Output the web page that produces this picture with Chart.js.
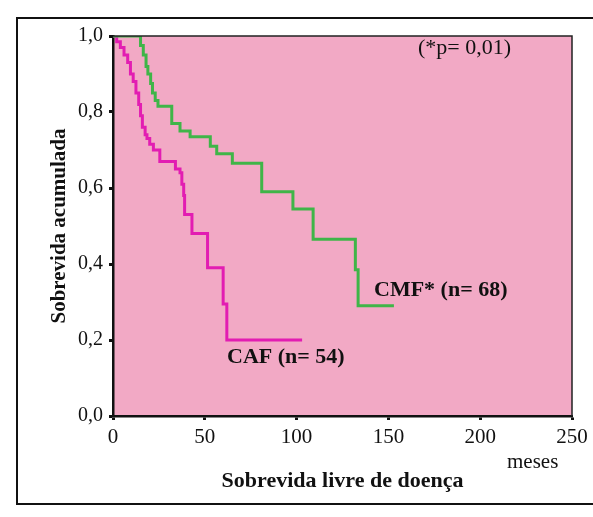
<!DOCTYPE html>
<html>
<head>
<meta charset="utf-8">
<script src="https://cdn.jsdelivr.net/npm/chart.js@4/dist/chart.umd.min.js"></script>
<style>
  html, body { margin: 0; padding: 0; background: #ffffff; }
  #wrap { width: 593px; height: 517px; position: relative; }
</style>
</head>
<body>
<div id="wrap"><canvas id="c" width="593" height="517"></canvas></div>
<script>
// ---- data (months, cumulative survival) ----
const cmfMonths = [0, 15, 16.5, 18, 19, 20.5, 21.5, 23, 24.5, 32, 36.5, 42, 53, 56.5, 65, 81, 98, 109, 132, 133.5, 153];
const cmfSurv   = [1.0, 0.975, 0.95, 0.92, 0.9, 0.875, 0.85, 0.83, 0.815, 0.77, 0.75, 0.735, 0.71, 0.69, 0.665, 0.59, 0.545, 0.465, 0.385, 0.29, 0.29];
const cafMonths = [0, 2, 4, 6, 8, 9.5, 11, 12.5, 14, 15, 16, 17.5, 18.5, 20, 22, 25.5, 34, 36.5, 37.5, 38.5, 39, 43, 51.5, 60, 62, 103];
const cafSurv   = [1.0, 0.985, 0.97, 0.95, 0.93, 0.9, 0.88, 0.85, 0.82, 0.79, 0.76, 0.74, 0.73, 0.715, 0.7, 0.67, 0.65, 0.64, 0.61, 0.58, 0.53, 0.48, 0.39, 0.295, 0.2, 0.2];
const xTicks = [0, 50, 100, 150, 200, 250];
const yTicks = [0.0, 0.2, 0.4, 0.6, 0.8, 1.0];
const seriesNames = ['CMF* (n= 68)', 'CAF (n= 54)'];
const pValueText = '(*p= 0,01)';
const xTitle = 'Sobrevida livre de doença';
const xUnit = 'meses';
const yTitle = 'Sobrevida acumulada';

const toPts = (xs, ys) => xs.map((x, i) => ({ x: x, y: ys[i] }));

const SERIF = '"Liberation Serif", "DejaVu Serif", serif';
const PINK = '#f2a9c5';

const decorPlugin = {
  id: 'decor',
  beforeDraw(chart) {
    const { ctx, chartArea: a } = chart;
    ctx.save();
    // outer figure frame
    ctx.strokeStyle = '#111';
    ctx.lineWidth = 2;
    ctx.beginPath();
    ctx.moveTo(600, 18);
    ctx.lineTo(17, 18);
    ctx.lineTo(17, 504);
    ctx.lineTo(600, 504);
    ctx.stroke();
    // pink plot background
    ctx.fillStyle = PINK;
    ctx.fillRect(a.left, a.top, a.right - a.left, a.bottom - a.top);
    ctx.restore();
  },
  afterDatasetsDraw(chart) {
    const { ctx, chartArea: a } = chart;
    ctx.save();
    // top and right border of plot area
    ctx.strokeStyle = '#222';
    ctx.lineWidth = 1.5;
    ctx.beginPath();
    ctx.moveTo(a.left, a.top);
    ctx.lineTo(a.right, a.top);
    ctx.lineTo(a.right, a.bottom);
    ctx.stroke();
    // annotations
    ctx.fillStyle = '#111';
    ctx.textBaseline = 'middle';
    ctx.textAlign = 'left';
    ctx.font = 'bold 22px ' + SERIF;
    ctx.fillText(seriesNames[0], 374, 290);
    ctx.fillText(seriesNames[1], 227, 357);
    ctx.font = '22px ' + SERIF;
    ctx.fillText(pValueText, 418, 48);
    // unit label
    ctx.font = '21px ' + SERIF;
    ctx.fillText(xUnit, 507, 462);
    ctx.restore();
  }
};

new Chart(document.getElementById('c'), {
  type: 'line',
  data: {
    datasets: [
      {
        label: seriesNames[0],
        data: toPts(cmfMonths, cmfSurv),
        borderColor: '#3fb548',
        borderWidth: 3,
        stepped: 'before',
        pointRadius: 0,
        fill: false
      },
      {
        label: seriesNames[1],
        data: toPts(cafMonths, cafSurv),
        borderColor: '#e21db2',
        borderWidth: 3,
        stepped: 'before',
        pointRadius: 0,
        fill: false
      }
    ]
  },
  options: {
    responsive: false,
    animation: false,
    devicePixelRatio: 1,
    layout: { padding: { top: 36, right: 21, left: 0, bottom: 0 } },
    plugins: {
      legend: { display: false },
      tooltip: { enabled: false }
    },
    scales: {
      x: {
        type: 'linear',
        min: 0,
        max: 250,
        afterBuildTicks(scale) { scale.ticks = xTicks.map(v => ({ value: v })); },
        afterFit(scale) { scale.height = 101; },
        grid: { drawOnChartArea: false, color: '#111', tickLength: 4, tickWidth: 3 },
        border: { color: '#111', width: 2.5 },
        ticks: {
          color: '#111',
          font: { family: SERIF, size: 21 },
          padding: 5,
          maxRotation: 0,
          callback: v => String(v)
        },
        title: {
          display: true,
          text: xTitle,
          color: '#111',
          font: { family: SERIF, size: 22, weight: 'bold' },
          padding: { top: 0, bottom: 22 }
        }
      },
      y: {
        type: 'linear',
        min: 0,
        max: 1,
        afterBuildTicks(scale) { scale.ticks = yTicks.map(v => ({ value: v })); },
        afterFit(scale) { scale.width = 113; },
        grid: { drawOnChartArea: false, color: '#111', tickLength: 4, tickWidth: 3 },
        border: { color: '#111', width: 2.5 },
        ticks: {
          color: '#111',
          font: { family: SERIF, size: 20 },
          padding: 6,
          callback: v => v.toFixed(1).replace('.', ',')
        },
        title: {
          display: true,
          text: yTitle,
          color: '#111',
          font: { family: SERIF, size: 21, weight: 'bold' },
          padding: { top: 47, bottom: 0 }
        }
      }
    }
  },
  plugins: [decorPlugin]
});
</script>
</body>
</html>
